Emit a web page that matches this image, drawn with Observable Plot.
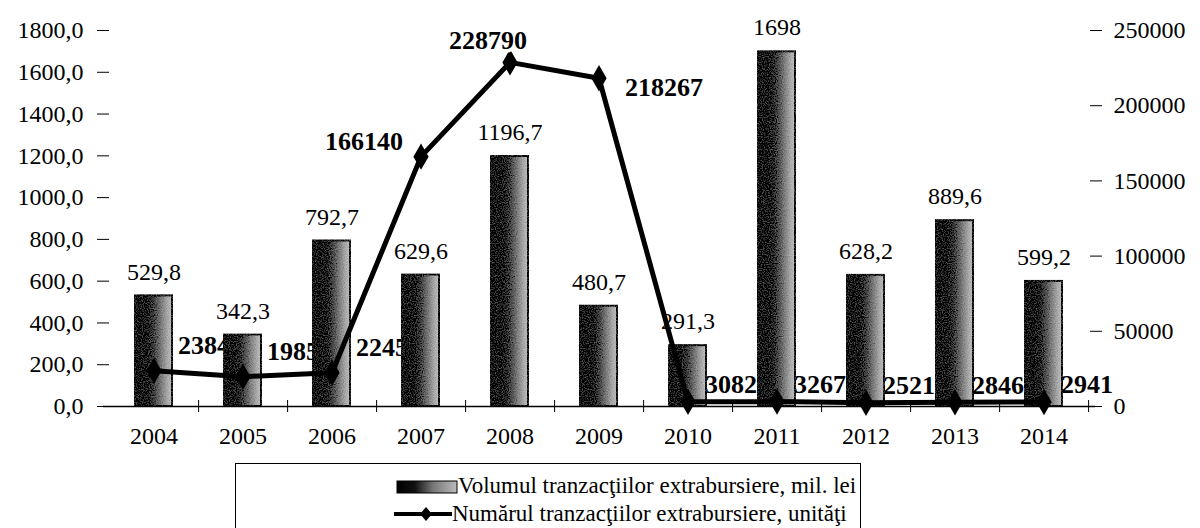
<!DOCTYPE html>
<html><head><meta charset="utf-8">
<script src="https://cdn.jsdelivr.net/npm/d3@7"></script>
<script src="https://cdn.jsdelivr.net/npm/@observablehq/plot@0.6"></script>
<style>
body{margin:0;background:#fff;width:1200px;height:528px;overflow:hidden;position:relative;font-family:"Liberation Serif","Times New Roman",serif;}
#chart{position:absolute;left:0;top:0;}
#legend{position:absolute;left:235px;top:463px;width:626px;height:90px;border:1px solid #000;box-sizing:border-box;font-size:23px;color:#000;}
#legend .t{position:absolute;white-space:nowrap;line-height:24px;}
#legend svg{position:absolute;}
</style></head><body>
<div id="chart"></div>
<div id="legend">
  <svg style="left:160px;top:16px" width="62" height="14"><rect x="1" y="1" width="60" height="12" fill="url(#legGrad)" stroke="#000" stroke-width="1"/>
    <defs><linearGradient id="legGrad" x1="0" x2="1" y1="0" y2="0"><stop offset="0" stop-color="#000"/><stop offset="0.3" stop-color="#111"/><stop offset="0.6" stop-color="#777"/><stop offset="1" stop-color="#bbb"/></linearGradient></defs></svg>
  <div class="t" id="leg1" style="left:222px;top:10px"></div>
  <svg style="left:158px;top:40px" width="60" height="20"><line x1="0" y1="10" x2="58" y2="10" stroke="#000" stroke-width="4"/><path d="M32,3 L38,10 L32,17 L26,10 Z" fill="#000"/></svg>
  <div class="t" id="leg2" style="left:216px;top:38px"></div>
</div>
<script>
const years = ["2004","2005","2006","2007","2008","2009","2010","2011","2012","2013","2014"];
const volume = [529.8, 342.3, 792.7, 629.6, 1196.7, 480.7, 291.3, 1698, 628.2, 889.6, 599.2];
const volumeText = ["529,8","342,3","792,7","629,6","1196,7","480,7","291,3","1698","628,2","889,6","599,2"];
const count = [23845, 19850, 22450, 166140, 228790, 218267, 3082, 3267, 2521, 2846, 2941];
const leftTicks = [0, 200, 400, 600, 800, 1000, 1200, 1400, 1600, 1800];
const rightTicks = [0, 50000, 100000, 150000, 200000, 250000];
const seriesNames = ["Volumul tranzacţiilor extrabursiere, mil. lei", "Numărul tranzacţiilor extrabursiere, unităţi"];

document.getElementById("leg1").textContent = seriesNames[0];
document.getElementById("leg2").textContent = seriesNames[1];

const W = 1200, H = 460, ML = 103, MR = 105, MT = 30, MB = 54;
const PI = 0.58, PO = 0.35;
const step = (W - ML - MR) / (years.length - PI + 2 * PO);
const k = 1800 / 250000;
const FONT = "Liberation Serif, Times New Roman, serif";

const rows = years.map((y, i) => ({year: y, volume: volume[i], vText: volumeText[i], count: count[i], cScaled: count[i] * k, cText: String(count[i])}));
const early = rows.filter((d, i) => i < 3);
const late = rows.filter((d, i) => i >= 6);
const peakA = rows.filter((d, i) => i === 3);
const peakB = rows.filter((d, i) => i === 4);
const peakC = rows.filter((d, i) => i === 5);

const lblStyle = {x: "year", y: "cScaled", text: "cText", fontWeight: "bold", fontSize: 26, fill: "black", stroke: "white", strokeWidth: 7, paintOrder: "stroke"};

const svg = Plot.plot({
  width: W, height: H, marginLeft: ML, marginRight: MR, marginTop: MT, marginBottom: MB,
  style: {fontFamily: FONT, background: "white", color: "black"},
  x: {domain: years, paddingInner: PI, paddingOuter: PO, label: null},
  y: {domain: [0, 1800], label: null},
  marks: [
    Plot.text(early, {...lblStyle, textAnchor: "start", dx: 24, dy: -25}),
    Plot.text(late, {...lblStyle, textAnchor: "start", dx: 17, dy: -17}),
    Plot.barY(rows, {x: "year", y: "volume", fill: "url(#barGrad)", stroke: "black", strokeWidth: 2}),
    Plot.text(rows, {x: "year", y: "volume", text: "vText", dy: -24, fontSize: 24, fill: "black"}),
    Plot.line(rows, {x: "year", y: "cScaled", stroke: "black", strokeWidth: 5, curve: "linear"}),
    Plot.dot(rows, {x: "year", y: "cScaled", symbol: "diamond", r: 8, fill: "black", stroke: "none"}),
    Plot.text(peakA, {...lblStyle, textAnchor: "end", dx: -18, dy: -15}),
    Plot.text(peakB, {...lblStyle, textAnchor: "middle", dx: -22, dy: -22}),
    Plot.text(peakC, {...lblStyle, textAnchor: "start", dx: 26, dy: 9}),
    Plot.ruleY([0], {stroke: "black", strokeWidth: 1.5}),
    Plot.axisY({anchor: "left", ticks: leftTicks, tickSize: 6, tickPadding: 14, fontSize: 24, line: true,
      tickFormat: d => d.toFixed(1).replace(".", ",")}),
    Plot.axisY({anchor: "left", ticks: leftTicks, tickSize: -6, tickFormat: () => ""}),
    Plot.axisY({anchor: "right", ticks: rightTicks.map(v => v * k), tickSize: 6, tickPadding: 12, fontSize: 24, line: true,
      tickFormat: d => String(Math.round(d / k))}),
    Plot.axisY({anchor: "right", ticks: rightTicks.map(v => v * k), tickSize: -6, tickFormat: () => ""}),
    Plot.axisX({tickSize: 0, tickPadding: 20, fontSize: 24}),
    Plot.axisX({tickSize: 12, dy: -6, dx: step / 2, tickFormat: () => ""})
  ]
});

const d3svg = d3.select(svg);
const defs = d3svg.insert("defs", ":first-child");
const grad = defs.append("linearGradient").attr("id", "barGrad").attr("x1", 0).attr("x2", 1).attr("y1", 0).attr("y2", 0);
[[0, "#000"], [0.3, "#050505"], [0.5, "#3a3a3a"], [0.72, "#7d7d7d"], [0.88, "#a8a8a8"], [1, "#bdbdbd"]].forEach(([o, c]) =>
  grad.append("stop").attr("offset", o).attr("stop-color", c));
const filt = defs.append("filter").attr("id", "grain").attr("x", "-5%").attr("y", "-5%").attr("width", "110%").attr("height", "110%");
filt.append("feTurbulence").attr("type", "fractalNoise").attr("baseFrequency", "0.85").attr("numOctaves", 1).attr("seed", 4).attr("result", "n");
filt.append("feColorMatrix").attr("in", "n").attr("type", "matrix")
  .attr("values", "0.33 0.33 0.33 0 0  0.33 0.33 0.33 0 0  0.33 0.33 0.33 0 0  0 0 0 0 1").attr("result", "g");
filt.append("feComposite").attr("in", "SourceGraphic").attr("in2", "g").attr("operator", "arithmetic")
  .attr("k1", 0).attr("k2", 1).attr("k3", 0.55).attr("k4", -0.27).attr("result", "mix");
filt.append("feComposite").attr("in", "mix").attr("in2", "SourceAlpha").attr("operator", "in");
d3svg.selectAll("g[aria-label='bar']").attr("filter", "url(#grain)");

document.getElementById("chart").appendChild(svg);
</script>
</body></html>
